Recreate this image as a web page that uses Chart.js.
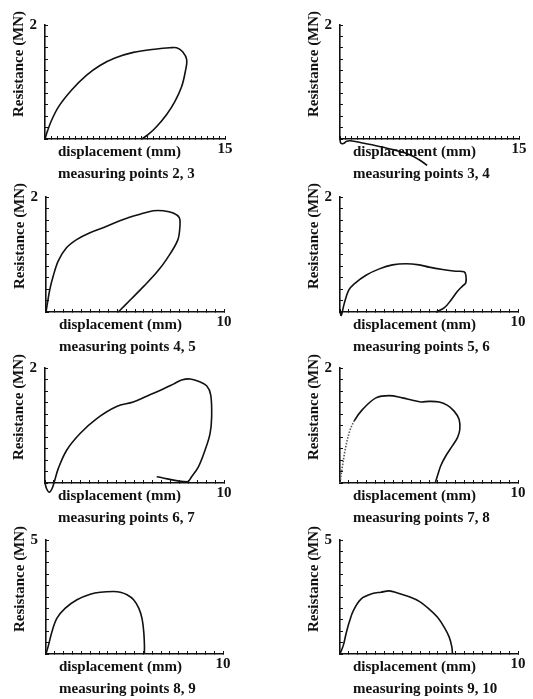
<!DOCTYPE html>
<html><head><meta charset="utf-8">
<script src="https://cdn.jsdelivr.net/npm/chart.js@4.4.1/dist/chart.umd.min.js"></script>
<style>
html,body{margin:0;padding:0;background:#fff;width:533px;height:699px;overflow:hidden}
canvas{position:absolute}
</style></head><body>
<script>
// ---------- data ----------
const xTitle = 'displacement (mm)';
const yTitle = 'Resistance (MN)';
const panelLabels = ['measuring points 2, 3','measuring points 3, 4','measuring points 4, 5','measuring points 5, 6',
                     'measuring points 6, 7','measuring points 7, 8','measuring points 8, 9','measuring points 9, 10'];
const xMaxes = [15, 15, 10, 10, 10, 10, 10, 10];
const yMaxes = [2, 2, 2, 2, 2, 2, 5, 5];
const xSteps = [0.5, 0.5, 0.5, 0.5, 0.5, 0.5, 0.5, 0.5];
const ySteps = [0.2, 0.2, 0.2, 0.2, 0.2, 0.2, 0.5, 0.5];

const p23_x = [0, 0.19, 0.47, 1.11, 2.22, 3.47, 4.58, 5.83, 7.36, 9.31, 10.42, 10.97, 11.47, 11.81, 11.69, 11.39, 10.83, 10.14, 9.31, 8.61, 8.06];
const p23_y = [0, 0.13, 0.29, 0.56, 0.86, 1.12, 1.29, 1.42, 1.52, 1.58, 1.60, 1.60, 1.53, 1.39, 1.18, 0.92, 0.66, 0.43, 0.22, 0.08, 0];

const p34_x = [0, 0.06, 0.28, 0.56, 0.84, 1.9, 3.3, 4.7, 5.8, 6.6, 7.3];
const p34_y = [0, -0.07, -0.08, -0.04, -0.03, -0.07, -0.13, -0.2, -0.27, -0.36, -0.46];

const p45_x = [0, 0.09, 0.22, 0.41, 0.69, 1.16, 1.72, 2.47, 3.41, 4.34, 5.28, 6.03, 6.59, 7.15, 7.49, 7.53, 7.40, 6.78, 6.22, 5.50, 4.80, 4.06];
const p45_y = [0, 0.17, 0.40, 0.63, 0.89, 1.12, 1.26, 1.38, 1.49, 1.61, 1.70, 1.76, 1.76, 1.72, 1.64, 1.52, 1.25, 0.92, 0.69, 0.45, 0.23, 0];

const p56_x = [0, 0.07, 0.24, 0.49, 0.80, 1.46, 2.21, 2.95, 3.70, 4.45, 5.01, 5.76, 6.50, 6.97, 7.07, 7.07, 6.88, 6.60, 6.22, 5.85, 5.38];
const p56_y = [0, -0.06, 0.15, 0.38, 0.49, 0.64, 0.75, 0.82, 0.84, 0.82, 0.78, 0.74, 0.71, 0.70, 0.64, 0.51, 0.45, 0.36, 0.20, 0.07, 0];

const p67_x = [0, 0.09, 0.24, 0.39, 0.52, 0.74, 1.21, 1.96, 2.89, 4.00, 4.93, 5.68, 6.42, 7.17, 7.63, 8.10, 8.57, 9.03, 9.26, 9.31, 9.22, 8.94, 8.57, 8.19, 7.95, 6.24];
const p67_y = [0, -0.10, -0.16, -0.10, 0.02, 0.25, 0.57, 0.86, 1.12, 1.33, 1.41, 1.51, 1.61, 1.72, 1.79, 1.81, 1.77, 1.69, 1.53, 1.15, 0.86, 0.57, 0.28, 0.11, 0.02, 0.11];

const p78_x = [0, 0.11, 0.30, 0.52, 0.80, 1.27, 2.02, 2.77, 3.51, 4.07, 4.54, 5.01, 5.57, 6.04, 6.41, 6.69, 6.73, 6.60, 6.32, 5.94, 5.66, 5.48, 5.35];
const p78_y = [0, 0.24, 0.59, 0.88, 1.08, 1.28, 1.48, 1.52, 1.48, 1.44, 1.41, 1.42, 1.41, 1.35, 1.25, 1.11, 0.93, 0.79, 0.65, 0.47, 0.30, 0.13, 0];

const p89_x = [0, 0.15, 0.34, 0.62, 1.09, 1.75, 2.50, 3.07, 3.82, 4.20, 4.58, 4.95, 5.24, 5.42, 5.52, 5.56, 5.56];
const p89_y = [0, 0.41, 0.99, 1.57, 2.01, 2.38, 2.62, 2.71, 2.74, 2.71, 2.60, 2.38, 2.01, 1.57, 0.99, 0.41, 0];

const p910_x = [0, 0.19, 0.34, 0.52, 0.75, 1.18, 1.83, 2.30, 2.77, 3.23, 3.89, 4.45, 5.01, 5.48, 5.85, 6.13, 6.28, 6.32];
const p910_y = [0, 0.39, 0.89, 1.40, 1.90, 2.41, 2.65, 2.71, 2.77, 2.68, 2.51, 2.31, 1.97, 1.61, 1.18, 0.75, 0.32, 0];

const seriesX = [p23_x, p34_x, p45_x, p56_x, p67_x, p78_x, p89_x, p910_x];
const seriesY = [p23_y, p34_y, p45_y, p56_y, p67_y, p78_y, p89_y, p910_y];

// ---------- layout (plot-area boxes on the page: left, top, right, bottom) ----------
const areas = [
  [45, 25, 225, 139], [340, 25, 519, 139],
  [46, 197, 224, 312], [340, 197, 518, 312],
  [45, 368, 224, 483], [340, 368, 518, 483],
  [46, 540, 223, 654], [340, 540, 518, 654]
];
const FONT = '"Liberation Serif", "Times New Roman", serif';
const INK = '#111';
const padL = 45, padT = 20, padR = 15, padB = 45;

const textPlugin = {
  id: 'panelText',
  afterDraw(chart, args, opts) {
    const ctx = chart.ctx, a = chart.chartArea;
    ctx.save();
    ctx.fillStyle = INK;
    ctx.font = 'bold 15px ' + FONT;
    ctx.textAlign = 'left';
    ctx.textBaseline = 'alphabetic';
    ctx.fillText(opts.xTitle, a.left + 13, a.bottom + 17);
    ctx.fillText(opts.caption, a.left + 13, a.bottom + 39);
    ctx.translate(a.left - 22, a.top + 39);
    ctx.rotate(-Math.PI / 2);
    ctx.textAlign = 'center';
    ctx.fillText(opts.yTitle, 0, 0);
    ctx.restore();
  }
};

areas.forEach(([l, t, r, b], i) => {
  const c = document.createElement('canvas');
  const w = r - l + padL + padR, h = b - t + padT + padB;
  c.width = w; c.height = h;
  c.style.left = (l - padL) + 'px'; c.style.top = (t - padT) + 'px';
  c.style.width = w + 'px'; c.style.height = h + 'px';
  document.body.appendChild(c);
  const pts = seriesX[i].map((x, k) => ({x, y: seriesY[i][k]}));
  const xMax = xMaxes[i], yMax = yMaxes[i];
  const tickFont = {family: FONT, size: 15, weight: 'bold'};
  new Chart(c, {
    type: 'scatter',
    data: {datasets: [{
      data: pts, showLine: true, borderColor: INK, borderWidth: 1.6,
      pointRadius: 0, pointHoverRadius: 0, tension: 0.35, clip: false, capBezierPoints: false,
      segment: i === 5 ? {borderDash: s => s.p1DataIndex <= 4 ? [1.5, 1.5] : undefined,
                          borderColor: s => s.p1DataIndex <= 4 ? '#555' : INK} : undefined
    }]},
    options: {
      responsive: false, animation: false, devicePixelRatio: 1,
      layout: {padding: {left: 0, top: padT, right: padR, bottom: 0}},
      plugins: {legend: {display: false}, tooltip: {enabled: false},
        panelText: {xTitle, yTitle, caption: panelLabels[i]}},
      scales: {
        x: {
          type: 'linear', min: 0, max: xMax,
          afterFit: s => { s.height = padB; },
          border: {display: true, color: INK, width: 1.6},
          grid: {drawOnChartArea: false, drawTicks: true, tickLength: -3, color: INK, lineWidth: 1},
          ticks: {stepSize: xSteps[i], autoSkip: false, maxRotation: 0, padding: 4, color: INK, font: tickFont,
                  callback: v => Math.abs(v - xMax) < 1e-9 ? String(v) : ''}
        },
        y: {
          type: 'linear', min: 0, max: yMax,
          afterFit: s => { s.width = padL; },
          border: {display: true, color: INK, width: 1.6},
          grid: {drawOnChartArea: false, drawTicks: true, tickLength: -3, color: INK, lineWidth: 1},
          ticks: {stepSize: ySteps[i], autoSkip: false, padding: 11, color: INK, font: tickFont,
                  callback: v => Math.abs(v - yMax) < 1e-9 ? String(v) : ''}
        }
      }
    },
    plugins: [textPlugin]
  });
});
</script>
</body></html>
